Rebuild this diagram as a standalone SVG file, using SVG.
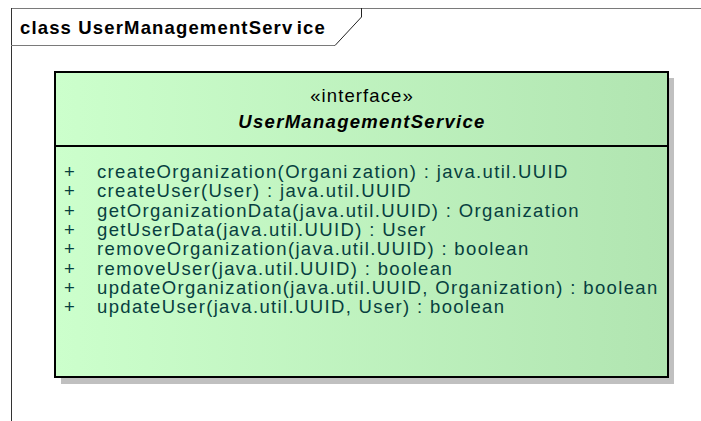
<svg xmlns="http://www.w3.org/2000/svg" width="701" height="421" viewBox="0 0 701 421">
<defs>
<linearGradient id="g" x1="0" y1="0" x2="1" y2="0">
<stop offset="0" stop-color="#CCFFCC"/>
<stop offset="1" stop-color="#B1E5B1"/>
</linearGradient>
<style>
.t{font-family:"Liberation Sans",Arial,sans-serif;font-size:18.5px;letter-spacing:1.1px}
.op{fill:#073F3F;letter-spacing:1.35px}
.b{font-weight:bold;letter-spacing:1.15px}
.bi{font-weight:bold;font-style:italic;letter-spacing:1.3px}
.ws{word-spacing:-3px}
</style>
</defs>
<rect width="701" height="421" fill="#fff"/>
<g id="frame">
<line x1="11" y1="8.5" x2="701" y2="8.5" stroke="#7a7a7a" stroke-width="1"/>
<line x1="11.5" y1="8" x2="11.5" y2="421" stroke="#333" stroke-width="1"/>
<line x1="11" y1="45.5" x2="335" y2="45.5" stroke="#7a7a7a" stroke-width="1"/>
<polyline points="361.5,8 361.5,17 335,45.5" fill="none" stroke="#222" stroke-width="1"/>
<text class="t b" x="20" y="34">class UserManagement<tspan class="ws">Serv ice</tspan></text>
</g>
<g id="UserManagementService">
<rect x="61" y="78" width="613" height="306" fill="#C0C0C0"/>
<rect x="55" y="72" width="613" height="305" fill="url(#g)" stroke="#000" stroke-width="2"/>
<line x1="55" y1="146" x2="668" y2="146" stroke="#000" stroke-width="2"/>
<text class="t" x="362" y="102" text-anchor="middle">«interface»</text>
<text class="t bi" x="362" y="128" text-anchor="middle">UserManagementService</text>
<g class="t op">
<text x="64" y="178">+</text><text x="97" y="178">createOrganization(<tspan class="ws">Organi zation)</tspan> : java.util.UUID</text>
<text x="64" y="197">+</text><text x="97" y="197">createUser(User) : java.util.UUID</text>
<text x="64" y="217">+</text><text x="97" y="217">getOrganizationData(java.util.UUID) : Organization</text>
<text x="64" y="236">+</text><text x="97" y="236">getUserData(java.util.UUID) : User</text>
<text x="64" y="255">+</text><text x="97" y="255">removeOrganization(java.util.UUID) : boolean</text>
<text x="64" y="275">+</text><text x="97" y="275">removeUser(java.util.UUID) : boolean</text>
<text x="64" y="294">+</text><text x="97" y="294">updateOrganization(java.util.UUID, Organization) : boolean</text>
<text x="64" y="313">+</text><text x="97" y="313">updateUser(java.util.UUID, User) : boolean</text>
</g>
</g>
</svg>
